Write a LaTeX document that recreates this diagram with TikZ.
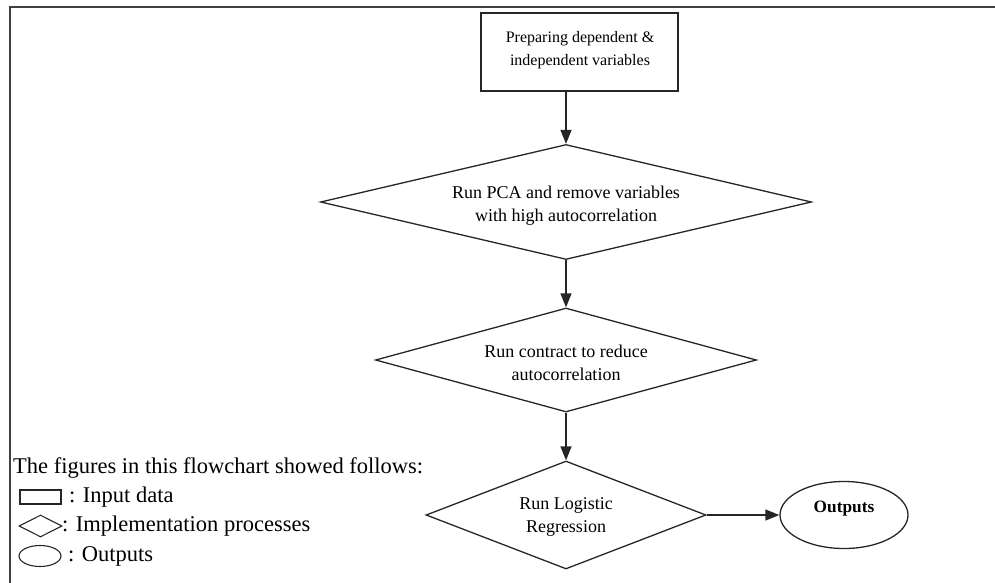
\documentclass[tikz,border=0pt]{standalone}
\usepackage{fontspec}
\setmainfont{Liberation Serif}
\usetikzlibrary{shapes.geometric,arrows.meta}
\begin{document}
\begin{tikzpicture}[x=1pt,y=-1pt,
  flow/.style={line width=1.3pt,black!85,-{Triangle[length=14pt,width=11pt]}},
  proc/.style={draw,line width=1.3pt,black!85,diamond,inner sep=0pt},
  proctext/.style={inner sep=0pt,text=black,align=center,font=\fontsize{18}{23}\selectfont},
  inbox/.style={draw,line width=1.3pt,black!85,rectangle,inner sep=0pt},
  outell/.style={draw,line width=1.3pt,black!85,ellipse,inner sep=0pt},
  legtext/.style={anchor=west,inner sep=0pt,font=\fontsize{22.5}{26}\selectfont},
  legshape/.style={draw,line width=1.1pt,black!85,inner sep=0pt}]
\useasboundingbox (0,0) rectangle (995,583);
% frame
\draw[line width=1.6pt,black!75] (10,583) -- (10,7) -- (995,7);
% top box
\node[inbox,minimum width=197pt,minimum height=78pt] (box) at (579.5,52) {};
\node[inner sep=0pt,align=center,font=\fontsize{16}{23}\selectfont] (boxt) at (580,50) {Preparing dependent \&\\independent variables};
\coordinate (boxb) at (566,91);
% diamonds
\node[proc,minimum width=491pt,minimum height=115pt] (d1) at (566,202) {};
\node[proctext] (d1t) at (566,206) {Run PCA and remove variables\\with high autocorrelation};
\node[proc,minimum width=381pt,minimum height=104pt] (d2) at (566,360) {};
\node[proctext] (d2t) at (566,363) {Run contract to reduce\\autocorrelation};
\node[proc,minimum width=280pt,minimum height=108pt] (d3) at (566,515) {};
\node[proctext] (d3t) at (566,517) {Run Logistic\\Regression};
\node[outell,minimum width=128pt,minimum height=67pt] (out) at (844,515) {};
\node[inner sep=0pt,font=\fontsize{17.3}{20}\selectfont\bfseries] (outt) at (844,509) {Outputs};
% connectors
\draw[flow] (boxb) -- (d1.north);
\draw[flow] (d1.south) -- (d2.north);
\draw[flow] (d2.south) -- (d3.north);
\draw[flow] (d3.east) -- (out.west);
% legend
\node[legtext] (lt) at (13,468) {The figures in this flowchart showed follows:};
\node[legshape,rectangle,minimum width=41pt,minimum height=14pt] (lrect) at (40.5,497) {};
\node[legtext] (l1) at (69,497) {: Input data};
\node[legshape,diamond,aspect=2,minimum width=43pt,minimum height=22pt] (ldia) at (40.5,526) {};
\node[legtext] (l2) at (62,526) {: Implementation processes};
\node[legshape,ellipse,minimum width=42pt,minimum height=21pt] (lell) at (40,556) {};
\node[legtext] (l3) at (68,556) {: Outputs};
\end{tikzpicture}
\end{document}
